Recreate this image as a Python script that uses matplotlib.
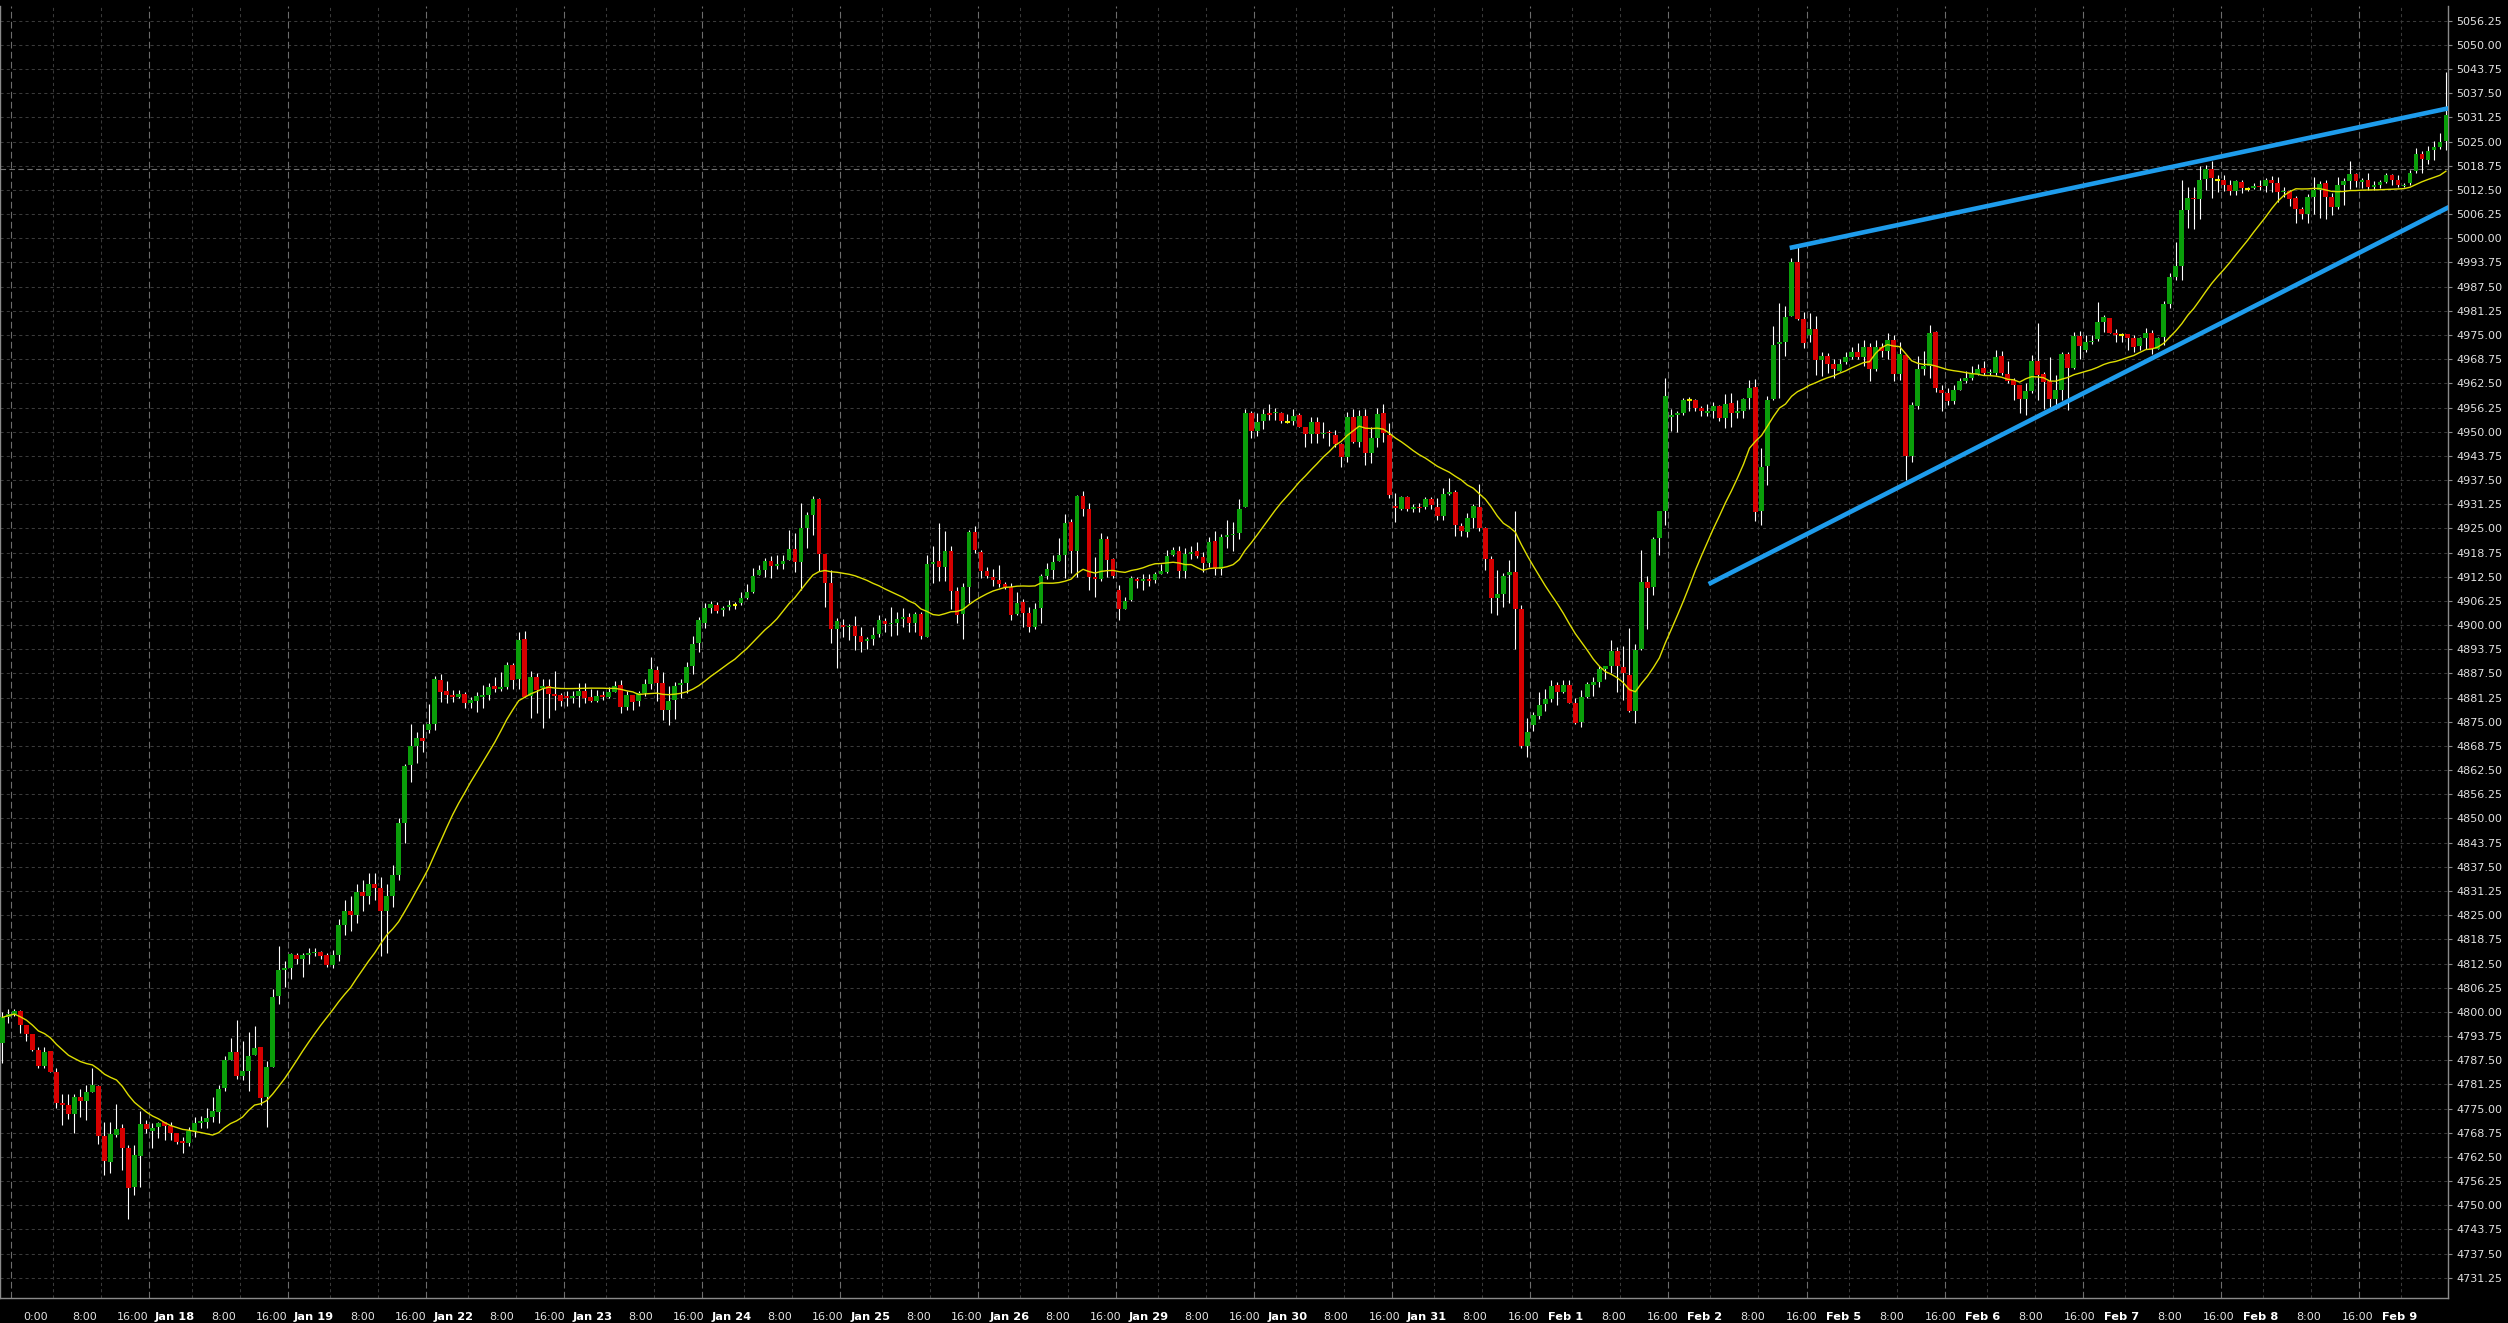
import matplotlib
matplotlib.use('Agg')

import matplotlib.pyplot as plt
import matplotlib.transforms as mtransforms
import numpy as np
import pandas as pd

# Hourly candles (index 0 = Jan 16 15:00 session hour)
opens = [
    4792.0, 4798.6, 4799.5, 4800.2, 4796.6, 4794.4, 4790.2, 4786.0, 4789.8, 4784.5,
    4776.5, 4775.9, 4773.7, 4777.9, 4776.9, 4779.3, 4780.8, 4768.0, 4761.3, 4768.2,
    4769.9, 4764.9, 4754.8, 4762.8, 4771.0, 4769.3, 4770.2, 4771.6, 4770.6, 4768.6,
    4766.6, 4766.2, 4769.2, 4771.4, 4771.6, 4772.9, 4774.2, 4780.4, 4787.6, 4789.6,
    4783.5, 4784.7, 4788.8, 4790.9, 4778.1, 4785.7, 4804.0, 4810.8, 4811.3, 4814.7,
    4813.8, 4814.7, 4815.1, 4815.4, 4814.7, 4812.1, 4814.7, 4822.5, 4826.0, 4825.0,
    4831.0, 4830.0, 4833.0, 4832.0, 4826.0, 4830.0, 4835.4, 4848.8, 4863.9, 4868.7,
    4870.9, 4872.9, 4874.4, 4885.8, 4882.9, 4881.9, 4881.5, 4882.1, 4879.8, 4880.5,
    4881.5, 4881.9, 4884.2, 4883.5, 4884.1, 4889.7, 4886.1, 4896.3, 4881.7, 4886.5,
    4883.7, 4884.3, 4882.2, 4881.9, 4881.7, 4881.2, 4881.7, 4883.0, 4881.3, 4880.5,
    4881.9, 4881.5, 4882.8, 4884.5, 4878.9, 4881.9, 4880.5, 4882.4, 4884.8, 4888.4,
    4884.9, 4878.0, 4880.6, 4884.5, 4885.1, 4889.3, 4895.3, 4900.5, 4904.5, 4905.2,
    4903.9, 4904.8, 4905.3, 4905.6, 4907.1, 4908.6, 4913.0, 4914.2, 4916.6, 4915.4,
    4915.7, 4916.8, 4919.6, 4916.4, 4925.0, 4928.5, 4932.6, 4918.5, 4910.8, 4898.9,
    4900.0, 4899.4, 4899.8, 4897.3, 4895.9, 4896.4, 4897.7, 4901.0, 4900.3, 4900.6,
    4901.5, 4902.2, 4900.6, 4902.9, 4897.0, 4915.8, 4916.6, 4915.1, 4919.1, 4908.8,
    4902.9, 4909.9, 4924.1, 4919.0, 4914.0, 4912.5, 4911.6, 4910.6, 4909.9, 4902.9,
    4905.9, 4903.2, 4899.6, 4904.5, 4912.8, 4914.2, 4916.6, 4918.1, 4926.6, 4919.1,
    4933.4, 4930.0, 4912.5, 4911.9, 4922.3, 4917.1, 4909.1, 4904.2, 4906.5, 4911.8,
    4911.4, 4911.8, 4911.6, 4913.1, 4913.8, 4918.1, 4919.1, 4914.0, 4918.4, 4919.1,
    4917.7, 4916.1, 4921.7, 4914.5, 4922.7, 4923.3, 4923.7, 4930.6, 4954.7, 4950.3,
    4952.8, 4954.7, 4954.7, 4954.7, 4952.6, 4952.8, 4954.3, 4951.1, 4949.3, 4952.4,
    4949.4, 4950.0, 4949.1, 4946.8, 4943.4, 4953.9, 4947.4, 4954.0, 4944.6, 4948.3,
    4954.7, 4949.1, 4930.8, 4930.0, 4933.0, 4930.1, 4930.6, 4930.4, 4932.5, 4930.4,
    4928.3, 4933.9, 4934.5, 4925.7, 4924.1, 4927.8, 4930.6, 4925.2, 4917.1, 4907.1,
    4908.0, 4912.9, 4913.6, 4904.1, 4868.8, 4874.2, 4876.6, 4879.6, 4880.9, 4884.5,
    4882.8, 4884.5, 4879.9, 4875.0, 4881.5, 4884.5, 4885.4, 4888.6, 4889.3, 4893.3,
    4889.1, 4887.1, 4877.8, 4893.7, 4911.2, 4909.8, 4922.6, 4929.4, 4953.9, 4954.2,
    4954.7, 4958.1, 4958.2, 4956.0, 4954.9, 4955.4, 4956.7, 4953.6, 4957.4, 4954.9,
    4955.4, 4958.7, 4961.5, 4929.6, 4941.2, 4958.5, 4972.7, 4973.2, 4979.9, 4993.9,
    4979.2, 4975.0, 4976.5, 4968.5, 4969.6, 4967.4, 4965.8, 4967.9, 4969.4, 4970.7,
    4969.2, 4971.9, 4966.1, 4972.0, 4970.8, 4973.6, 4964.9, 4969.8, 4943.8, 4956.7,
    4966.3, 4967.0, 4975.8, 4960.7, 4960.0, 4957.9, 4960.7, 4963.1, 4964.0, 4964.9,
    4966.5, 4965.2, 4965.2, 4969.5, 4964.9, 4963.3, 4962.1, 4958.4, 4960.5, 4968.3,
    4964.9, 4963.1, 4958.4, 4960.8, 4970.2, 4966.4, 4974.7, 4971.1, 4973.1, 4973.9,
    4978.3, 4979.3, 4975.6, 4975.0, 4975.2, 4974.3, 4972.1, 4974.1, 4975.4, 4971.5,
    4974.5, 4983.0, 4990.1, 4992.9, 5007.3, 5010.3, 5010.1, 5015.2, 5017.8, 5015.1,
    5015.1, 5013.8, 5012.1, 5014.5, 5012.7, 5013.1, 5013.6, 5013.6, 5015.1, 5014.2,
    5011.9, 5012.2, 5010.5, 5007.6, 5006.4, 5010.8, 5012.6, 5014.2, 5010.8, 5008.2,
    5013.8, 5014.9, 5016.6, 5014.6, 5015.1, 5013.3, 5013.8, 5014.6, 5016.4, 5015.1,
    5013.6, 5014.2, 5017.4, 5021.9, 5020.2, 5022.8, 5023.6, 5025.2,
]

closes = [
    4798.6, 4799.5, 4800.2, 4796.6, 4794.4, 4790.2, 4786.0, 4789.6, 4784.5, 4776.5,
    4775.9, 4773.5, 4777.9, 4776.9, 4779.3, 4781.0, 4768.0, 4761.4, 4768.4, 4769.6,
    4764.9, 4754.5, 4763.0, 4771.0, 4769.7, 4770.1, 4771.4, 4770.6, 4768.8, 4766.4,
    4766.2, 4769.2, 4771.4, 4771.6, 4772.5, 4774.4, 4780.1, 4787.6, 4789.6, 4783.5,
    4784.7, 4788.6, 4790.7, 4777.8, 4785.7, 4803.8, 4810.8, 4811.3, 4815.0, 4813.8,
    4814.7, 4815.1, 4815.4, 4814.5, 4812.1, 4814.7, 4822.5, 4826.0, 4825.0, 4831.0,
    4830.0, 4833.0, 4832.0, 4826.0, 4830.0, 4835.4, 4848.8, 4863.6, 4868.7, 4870.9,
    4870.1, 4874.3, 4886.0, 4882.8, 4881.9, 4881.5, 4882.1, 4879.8, 4880.6, 4881.7,
    4881.9, 4883.9, 4883.5, 4883.9, 4889.7, 4885.8, 4896.1, 4881.5, 4886.5, 4883.2,
    4884.3, 4882.2, 4881.7, 4880.5, 4881.2, 4881.7, 4883.0, 4881.2, 4880.5, 4881.7,
    4881.5, 4882.6, 4884.3, 4878.7, 4881.9, 4880.2, 4882.4, 4884.8, 4888.6, 4885.1,
    4878.0, 4880.5, 4884.3, 4885.1, 4889.1, 4895.1, 4901.3, 4904.5, 4905.4, 4903.7,
    4904.5, 4905.1, 4905.3, 4907.1, 4908.6, 4912.7, 4914.2, 4916.6, 4915.4, 4915.7,
    4916.6, 4919.6, 4916.4, 4925.0, 4928.5, 4932.6, 4918.5, 4910.8, 4898.9, 4901.0,
    4899.6, 4899.8, 4897.3, 4895.7, 4896.4, 4897.4, 4901.3, 4900.4, 4900.6, 4901.5,
    4902.2, 4900.6, 4902.9, 4897.3, 4915.8, 4916.3, 4914.9, 4919.1, 4908.8, 4902.6,
    4909.9, 4924.1, 4919.4, 4914.0, 4912.8, 4911.6, 4910.6, 4909.9, 4902.6, 4905.8,
    4903.2, 4899.6, 4904.2, 4912.8, 4914.4, 4916.3, 4918.1, 4926.3, 4919.1, 4933.4,
    4930.0, 4912.5, 4911.9, 4922.3, 4916.8, 4912.8, 4904.2, 4906.2, 4912.3, 4911.4,
    4911.8, 4911.4, 4913.1, 4914.0, 4917.9, 4919.4, 4914.0, 4918.4, 4919.0, 4917.9,
    4916.1, 4921.6, 4914.4, 4922.7, 4923.3, 4923.5, 4929.9, 4954.9, 4950.3, 4952.6,
    4954.6, 4954.3, 4955.0, 4952.8, 4952.6, 4954.0, 4951.3, 4949.4, 4952.4, 4949.4,
    4949.7, 4949.6, 4946.8, 4943.5, 4953.9, 4947.4, 4954.0, 4944.6, 4948.3, 4954.6,
    4949.6, 4933.6, 4930.2, 4933.0, 4930.1, 4930.4, 4930.2, 4932.5, 4931.0, 4928.3,
    4933.9, 4934.5, 4925.9, 4924.3, 4927.8, 4930.9, 4925.2, 4917.1, 4907.1, 4908.0,
    4912.7, 4913.6, 4904.2, 4868.8, 4872.3, 4876.8, 4879.3, 4880.9, 4884.2, 4882.8,
    4884.5, 4879.9, 4874.8, 4881.3, 4884.8, 4885.4, 4888.6, 4889.3, 4893.3, 4889.3,
    4887.7, 4877.8, 4893.5, 4911.2, 4909.7, 4922.3, 4929.4, 4959.2, 4954.2, 4954.7,
    4958.2, 4958.1, 4956.0, 4955.3, 4955.4, 4956.6, 4953.6, 4957.2, 4954.9, 4955.4,
    4958.5, 4961.2, 4929.3, 4940.9, 4958.2, 4972.3, 4973.2, 4979.6, 4993.9, 4979.2,
    4973.0, 4976.5, 4968.5, 4969.5, 4967.4, 4966.1, 4967.4, 4969.2, 4970.5, 4969.2,
    4972.0, 4966.1, 4972.0, 4970.8, 4973.8, 4964.9, 4970.2, 4943.8, 4956.9, 4966.1,
    4967.0, 4975.6, 4961.2, 4960.1, 4957.9, 4960.7, 4963.1, 4964.0, 4964.9, 4966.3,
    4965.2, 4965.5, 4969.2, 4965.2, 4963.2, 4962.1, 4958.4, 4960.5, 4968.3, 4964.6,
    4962.9, 4958.4, 4960.8, 4970.2, 4966.4, 4974.7, 4972.2, 4973.3, 4973.5, 4978.3,
    4979.6, 4975.6, 4975.0, 4975.0, 4974.3, 4971.8, 4974.1, 4975.4, 4971.5, 4974.1,
    4982.9, 4989.9, 4992.9, 5007.3, 5010.3, 5010.1, 5015.1, 5017.8, 5015.7, 5015.1,
    5013.8, 5012.1, 5014.8, 5013.1, 5012.7, 5013.6, 5013.3, 5015.1, 5014.2, 5011.9,
    5012.2, 5010.1, 5007.6, 5006.4, 5010.8, 5012.6, 5014.0, 5010.8, 5008.2, 5013.8,
    5014.9, 5016.6, 5014.9, 5015.1, 5013.3, 5013.8, 5014.6, 5016.4, 5015.1, 5013.8,
    5013.9, 5017.0, 5021.9, 5020.5, 5022.6, 5023.5, 5025.0, 5031.9,
]

highs = [
    4800.0, 4800.7, 4800.7, 4800.5, 4796.6, 4794.4, 4790.8, 4790.8, 4789.8, 4785.4,
    4778.8, 4778.8, 4778.8, 4780.0, 4781.1, 4785.4, 4781.0, 4771.6, 4771.6, 4776.2,
    4770.9, 4765.6, 4765.6, 4774.5, 4772.0, 4771.2, 4771.6, 4771.6, 4771.6, 4768.6,
    4767.7, 4770.3, 4772.7, 4773.1, 4775.1, 4778.1, 4781.1, 4788.6, 4793.2, 4797.9,
    4792.6, 4794.9, 4796.3, 4790.9, 4787.3, 4805.8, 4817.1, 4813.2, 4815.1, 4815.1,
    4815.1, 4816.4, 4816.5, 4815.8, 4815.1, 4816.0, 4824.0, 4829.0, 4830.0, 4833.0,
    4834.0, 4836.0, 4836.0, 4835.0, 4833.0, 4838.0, 4850.0, 4864.1, 4874.3, 4872.3,
    4874.3, 4879.6, 4886.8, 4887.4, 4885.5, 4883.2, 4883.2, 4882.8, 4881.5, 4882.7,
    4884.5, 4885.1, 4886.7, 4887.8, 4890.4, 4890.3, 4898.1, 4898.5, 4888.1, 4887.7,
    4886.1, 4886.0, 4888.1, 4882.4, 4883.0, 4883.0, 4885.1, 4885.1, 4883.4, 4883.2,
    4883.0, 4884.1, 4885.5, 4885.8, 4883.0, 4882.0, 4883.0, 4886.0, 4891.7, 4889.3,
    4887.9, 4884.3, 4885.4, 4886.0, 4890.5, 4897.2, 4902.2, 4905.6, 4906.2, 4906.0,
    4904.9, 4906.5, 4906.0, 4908.6, 4910.6, 4914.7, 4915.5, 4917.3, 4917.9, 4918.1,
    4918.1, 4924.6, 4923.9, 4931.6, 4929.2, 4933.4, 4932.8, 4918.5, 4914.2, 4901.9,
    4901.5, 4900.3, 4902.3, 4899.6, 4897.0, 4899.6, 4902.6, 4901.9, 4904.6, 4903.5,
    4904.3, 4903.2, 4903.5, 4903.5, 4918.1, 4920.4, 4926.3, 4924.4, 4920.4, 4909.9,
    4910.9, 4924.7, 4925.7, 4919.4, 4915.1, 4914.4, 4915.5, 4911.2, 4910.8, 4908.6,
    4906.7, 4904.6, 4905.8, 4913.1, 4916.1, 4918.1, 4922.6, 4928.7, 4927.3, 4933.6,
    4934.7, 4931.6, 4917.5, 4923.7, 4923.0, 4917.4, 4910.4, 4907.3, 4912.8, 4912.5,
    4913.2, 4913.1, 4913.8, 4915.7, 4919.4, 4920.3, 4920.4, 4919.8, 4920.4, 4921.6,
    4919.0, 4922.9, 4924.3, 4923.5, 4927.2, 4926.7, 4932.6, 4955.9, 4955.4, 4954.7,
    4955.9, 4957.2, 4956.0, 4955.0, 4954.5, 4955.8, 4954.9, 4951.3, 4953.7, 4953.7,
    4952.6, 4950.4, 4950.4, 4947.0, 4955.2, 4955.8, 4955.6, 4955.8, 4951.3, 4956.0,
    4957.2, 4952.2, 4934.1, 4933.4, 4933.4, 4931.3, 4931.5, 4933.2, 4933.2, 4932.8,
    4935.4, 4937.9, 4934.9, 4926.3, 4929.1, 4931.2, 4936.6, 4925.4, 4917.9, 4914.2,
    4913.4, 4916.8, 4929.5, 4905.2, 4875.9, 4877.4, 4882.8, 4883.4, 4885.9, 4885.4,
    4885.8, 4885.8, 4881.1, 4883.2, 4885.4, 4886.7, 4889.3, 4889.3, 4896.2, 4894.4,
    4894.6, 4899.3, 4895.1, 4919.5, 4912.8, 4922.9, 4929.4, 4963.9, 4955.8, 4955.4,
    4958.7, 4958.9, 4958.5, 4956.7, 4957.2, 4957.8, 4956.9, 4959.7, 4959.9, 4958.1,
    4958.7, 4963.4, 4963.6, 4945.9, 4959.2, 4977.2, 4983.3, 4982.4, 4995.0, 4997.7,
    4980.9, 4980.6, 4979.9, 4970.5, 4970.3, 4968.7, 4968.7, 4970.5, 4971.9, 4972.9,
    4973.8, 4972.8, 4973.8, 4972.8, 4975.4, 4975.0, 4973.2, 4969.9, 4957.6, 4969.6,
    4970.8, 4977.6, 4976.0, 4962.0, 4961.2, 4962.0, 4963.9, 4965.6, 4967.0, 4967.4,
    4968.3, 4966.1, 4971.2, 4970.8, 4968.3, 4964.0, 4962.1, 4962.5, 4969.8, 4978.0,
    4965.5, 4969.4, 4964.6, 4970.7, 4970.7, 4975.7, 4976.0, 4975.1, 4975.0, 4983.4,
    4980.2, 4979.5, 4976.5, 4975.6, 4975.2, 4975.1, 4974.6, 4976.7, 4976.4, 4974.6,
    4983.9, 4991.1, 4999.1, 5015.1, 5013.3, 5013.3, 5018.7, 5018.9, 5020.0, 5016.4,
    5016.4, 5015.1, 5015.1, 5015.1, 5013.3, 5014.2, 5015.1, 5015.5, 5016.1, 5015.8,
    5013.3, 5012.5, 5010.9, 5008.2, 5011.4, 5015.8, 5014.8, 5015.1, 5011.8, 5015.8,
    5015.7, 5020.0, 5016.8, 5015.5, 5017.0, 5014.9, 5015.1, 5016.8, 5016.6, 5016.4,
    5014.2, 5017.6, 5023.3, 5022.6, 5023.9, 5025.1, 5027.3, 5043.1,
]

lows = [
    4786.7, 4797.2, 4798.9, 4794.6, 4792.6, 4790.0, 4785.6, 4785.6, 4784.5, 4775.1,
    4770.8, 4772.2, 4768.8, 4772.9, 4772.0, 4779.3, 4765.8, 4757.8, 4758.3, 4767.7,
    4759.1, 4746.4, 4752.6, 4754.6, 4768.6, 4764.9, 4767.3, 4767.0, 4766.9, 4765.8,
    4763.4, 4765.2, 4767.7, 4770.1, 4769.9, 4771.6, 4771.4, 4779.5, 4787.6, 4782.6,
    4782.4, 4779.5, 4788.8, 4775.9, 4770.2, 4785.7, 4802.0, 4806.5, 4808.4, 4812.4,
    4809.1, 4812.4, 4814.5, 4813.8, 4811.5, 4811.3, 4813.2, 4820.0, 4821.0, 4823.0,
    4826.0, 4828.0, 4829.0, 4814.5, 4815.3, 4827.0, 4834.0, 4843.6, 4859.5, 4864.4,
    4867.3, 4872.2, 4873.0, 4880.2, 4879.8, 4880.2, 4881.1, 4878.6, 4878.6, 4877.4,
    4878.6, 4880.6, 4882.8, 4883.0, 4883.5, 4883.4, 4883.4, 4881.3, 4875.9, 4877.2,
    4873.5, 4875.9, 4878.0, 4879.1, 4879.1, 4879.8, 4878.9, 4879.8, 4880.0, 4880.0,
    4880.6, 4881.1, 4882.6, 4877.2, 4878.0, 4878.0, 4879.1, 4881.7, 4883.5, 4880.5,
    4875.5, 4874.2, 4875.8, 4881.1, 4882.4, 4887.4, 4893.1, 4899.3, 4903.0, 4903.0,
    4902.3, 4903.9, 4904.2, 4905.2, 4906.8, 4908.2, 4913.0, 4912.5, 4912.3, 4914.4,
    4914.4, 4916.8, 4913.8, 4909.1, 4919.8, 4923.3, 4914.1, 4904.6, 4895.3, 4889.0,
    4897.0, 4896.1, 4893.6, 4893.1, 4893.9, 4894.9, 4896.8, 4898.3, 4897.3, 4897.4,
    4899.6, 4898.3, 4898.3, 4896.3, 4896.8, 4910.8, 4911.5, 4911.5, 4904.1, 4900.6,
    4896.4, 4905.8, 4918.7, 4912.3, 4912.3, 4910.1, 4909.9, 4909.2, 4901.2, 4902.6,
    4899.4, 4898.1, 4898.9, 4900.6, 4911.8, 4911.9, 4916.6, 4912.1, 4913.4, 4912.5,
    4928.2, 4909.1, 4907.3, 4911.4, 4912.5, 4912.3, 4901.3, 4904.2, 4906.3, 4909.5,
    4909.1, 4910.1, 4910.9, 4913.1, 4913.4, 4917.9, 4912.3, 4912.3, 4917.0, 4917.3,
    4913.8, 4915.1, 4912.9, 4913.0, 4919.8, 4919.2, 4922.2, 4930.6, 4948.3, 4948.9,
    4950.6, 4953.0, 4953.0, 4952.3, 4952.2, 4951.7, 4951.1, 4946.0, 4947.2, 4947.0,
    4948.3, 4946.3, 4946.1, 4940.8, 4942.2, 4947.0, 4946.1, 4941.4, 4941.8, 4946.1,
    4947.4, 4932.8, 4926.7, 4929.7, 4929.6, 4929.3, 4929.2, 4929.9, 4929.9, 4927.2,
    4927.2, 4933.6, 4923.0, 4923.0, 4922.9, 4925.0, 4924.4, 4914.2, 4903.0, 4902.6,
    4904.8, 4905.8, 4893.7, 4868.1, 4866.0, 4872.5, 4875.8, 4877.8, 4880.2, 4879.3,
    4882.4, 4879.8, 4874.4, 4873.7, 4881.1, 4881.7, 4884.1, 4886.1, 4887.5, 4882.6,
    4880.6, 4877.5, 4874.6, 4893.5, 4898.9, 4907.8, 4918.0, 4925.8, 4950.1, 4949.8,
    4954.3, 4955.4, 4955.4, 4954.1, 4954.1, 4953.6, 4952.7, 4951.0, 4951.2, 4953.6,
    4953.6, 4955.9, 4926.9, 4925.8, 4936.1, 4958.1, 4958.7, 4969.6, 4979.9, 4978.8,
    4971.6, 4973.2, 4964.7, 4964.3, 4965.2, 4964.0, 4965.6, 4967.4, 4968.8, 4968.8,
    4967.0, 4963.2, 4965.6, 4969.2, 4968.7, 4963.0, 4963.4, 4937.6, 4942.2, 4955.8,
    4964.7, 4964.0, 4960.3, 4955.4, 4957.0, 4957.2, 4960.7, 4962.5, 4963.4, 4964.7,
    4964.7, 4964.7, 4964.7, 4964.7, 4962.5, 4958.2, 4954.9, 4954.3, 4959.9, 4958.2,
    4955.9, 4956.3, 4955.9, 4958.2, 4955.6, 4966.1, 4968.7, 4970.7, 4972.6, 4973.5,
    4975.7, 4975.4, 4973.1, 4973.1, 4971.1, 4970.7, 4971.1, 4971.5, 4970.2, 4971.3,
    4972.4, 4981.9, 4989.2, 4989.2, 5002.6, 5002.3, 5005.0, 5012.5, 5010.5, 5012.0,
    5012.2, 5011.2, 5011.2, 5011.6, 5012.2, 5012.7, 5012.5, 5012.0, 5012.0, 5009.5,
    5010.8, 5008.3, 5003.9, 5005.1, 5003.9, 5006.4, 5005.3, 5004.9, 5006.0, 5007.5,
    5008.6, 5012.7, 5013.3, 5012.9, 5012.6, 5012.6, 5012.9, 5014.2, 5013.9, 5013.3,
    5013.3, 5013.8, 5017.0, 5017.0, 5019.2, 5020.2, 5023.0, 5022.8,
]

# Axis labels
days = ['Jan 17', 'Jan 18', 'Jan 19', 'Jan 22', 'Jan 23', 'Jan 24', 'Jan 25',
        'Jan 26', 'Jan 29', 'Jan 30', 'Jan 31', 'Feb 1', 'Feb 2', 'Feb 5',
        'Feb 6', 'Feb 7', 'Feb 8', 'Feb 9']
hour_labels = ['0:00', '8:00', '16:00']

# Hand drawn trend lines (candle index, price)
upper_x = [297.7, 407.4]
upper_y = [4997.5, 5033.6]
lower_x = [284.2, 407.8]
lower_y = [4910.6, 5008.3]

level_price = 5018.0
ma_period = 20

# Colours
bg = '#000000'
up_col = '#0a9e0a'
down_col = '#d60000'
doji_col = '#f0f000'
grid_col = '#3a3a3a'
sep_col = '#6c6c6c'
text_col = '#e2e2e2'
trend_col = '#1e9cec'

W, H = 2508, 1323
fig = plt.figure(figsize=(W / 100, H / 100), dpi=100, facecolor=bg)
ax = fig.add_axes([0, 25 / H, 2448.3 / W, 1292 / H])
ax.set_facecolor(bg)

o = np.array(opens)
c = np.array(closes)
hi = np.maximum(np.array(highs), np.maximum(o, c))
lo = np.minimum(np.array(lows), np.minimum(o, c))
x = np.arange(len(c))

ax.set_xlim(-0.4, 407.4)
ax.set_ylim(4726.03, 5060.05)

# Horizontal grid
yticks = np.arange(4731.25, 5056.3, 6.25)
for yv in yticks:
    ax.axhline(yv, color=grid_col, lw=0.75, dashes=(3, 3), zorder=0)

# Vertical grid, every 8 hours; the 16:00 line is the session separator
trans = mtransforms.blended_transform_factory(ax.transData, ax.transAxes)
ax.axvline(1.5, color=sep_col, lw=0.8, dashes=(6, 3), zorder=0)
for d, name in enumerate(days):
    start = 9 + 23 * d
    for k, off in enumerate([0, 8, 16]):
        g = start + off - 0.5
        if g > 407.4:
            continue
        if k == 2:
            ax.axvline(g, color=sep_col, lw=0.8, dashes=(6, 3), zorder=0)
        else:
            ax.axvline(g, color=grid_col, lw=0.75, dashes=(3, 3), zorder=0)
        lx = 5.6 + (g - 8.5) * 1.00695
        if k == 0 and d > 0:
            ax.text(lx, -0.0145, name, transform=trans, color='white', fontsize=8.2,
                    fontweight='bold', ha='center', va='center', clip_on=False)
        else:
            ax.text(lx, -0.0145, hour_labels[k], transform=trans, color=text_col,
                    fontsize=8.0, ha='center', va='center', clip_on=False)

# Level line
ax.axhline(level_price, color='#707070', lw=0.8, dashes=(5, 3), zorder=0.5)

# Candles
ax.vlines(x, lo, hi, color='white', lw=0.8, zorder=2)
body_lo = np.minimum(o, c)
body_h = np.maximum(np.abs(c - o), 0.3)
up = c > o
down = c < o
ax.bar(x[up], body_h[up], bottom=body_lo[up], width=0.78, color=up_col, lw=0, zorder=3)
ax.bar(x[down], body_h[down], bottom=body_lo[down], width=0.78, color=down_col, lw=0, zorder=3)
flat = c == o
ax.hlines(c[flat], x[flat] - 0.39, x[flat] + 0.39, color=doji_col, lw=1.5, zorder=3)

# Moving average
ma = pd.Series(c).rolling(ma_period, min_periods=1).mean()
ax.plot(x, ma, color='#dede00', lw=1.0, zorder=4)

# Trend lines
ax.plot(upper_x, upper_y, color=trend_col, lw=3.3, solid_capstyle='butt', zorder=5)
ax.plot(lower_x, lower_y, color=trend_col, lw=3.3, solid_capstyle='butt', zorder=5)

# Axes styling
ax.set_xticks([])
ax.yaxis.tick_right()
ax.set_yticks(yticks)
ax.set_yticklabels(['%.2f' % v for v in yticks])
ax.tick_params(axis='y', colors='#8a8a8a', labelcolor=text_col, labelsize=8.0,
               length=3, width=0.8, pad=3, direction='out')
for side in ['right', 'bottom', 'left']:
    ax.spines[side].set_color('#8a8a8a')
    ax.spines[side].set_linewidth(1.0)
ax.spines['top'].set_visible(False)

fig.savefig('out.png', dpi=100, facecolor=bg)
